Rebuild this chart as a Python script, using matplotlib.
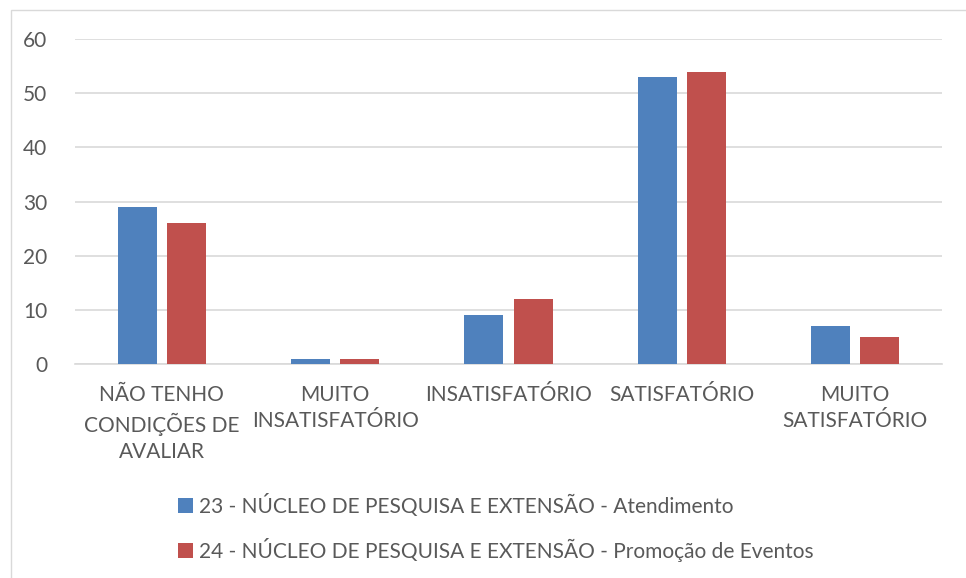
import matplotlib.pyplot as plt
import numpy as np
from matplotlib.patches import Rectangle

categories = ["NÃO TENHO\nCONDIÇÕES DE\nAVALIAR", "MUITO\nINSATISFATÓRIO",
              "INSATISFATÓRIO", "SATISFATÓRIO", "MUITO\nSATISFATÓRIO"]
atendimento = [29, 1, 9, 53, 7]
eventos = [26, 1, 12, 54, 5]
series_names = ["23 - NÚCLEO DE PESQUISA E EXTENSÃO - Atendimento",
                "24 - NÚCLEO DE PESQUISA E EXTENSÃO - Promoção de Eventos"]

plt.rcParams['font.family'] = ['Lato', 'DejaVu Sans']
txt = "#595959"
W, H = 966, 578

fig = plt.figure(figsize=(W / 100, H / 100), dpi=100)
fig.patches.append(Rectangle((11 / W, -0.1), 1.2, 1 - 10 / H + 0.1, transform=fig.transFigure,
                             fill=False, edgecolor="#D9D9D9", lw=1))
ax = fig.add_axes([75 / W, 1 - 364 / H, (942 - 75) / W, (364 - 39) / H])

x = np.arange(len(categories))
bw = 0.225
gap = 0.058
ax.bar(x - (bw + gap) / 2, atendimento, bw, color="#4F81BD", label=series_names[0], zorder=3)
ax.bar(x + (bw + gap) / 2, eventos, bw, color="#C0504D", label=series_names[1], zorder=3)

ax.set_xlim(-0.5, len(categories) - 0.5)
ax.set_ylim(0, 60)
ax.set_yticks(range(0, 61, 10))
ax.grid(axis="y", color="#D9D9D9", lw=1.2, zorder=0)
for s in ["top", "right", "left"]:
    ax.spines[s].set_visible(False)
ax.spines["bottom"].set_color("#D9D9D9")
ax.spines["bottom"].set_linewidth(1.2)
ax.tick_params(axis="both", length=0, colors=txt, labelsize=15)
ax.tick_params(axis="y", pad=20)
ax.tick_params(axis="x", pad=15)
ax.set_xticks(x)
ax.set_xticklabels(categories, linespacing=1.4)

leg = fig.legend(loc="upper left", bbox_to_anchor=(178 / W, 1 - 494 / H), ncol=1, frameon=False,
                 fontsize=15, labelcolor=txt, handlelength=0.7, handleheight=0.7,
                 handletextpad=0.3, labelspacing=1.0, borderpad=0, borderaxespad=0)

fig.savefig("out.png", dpi=100)
